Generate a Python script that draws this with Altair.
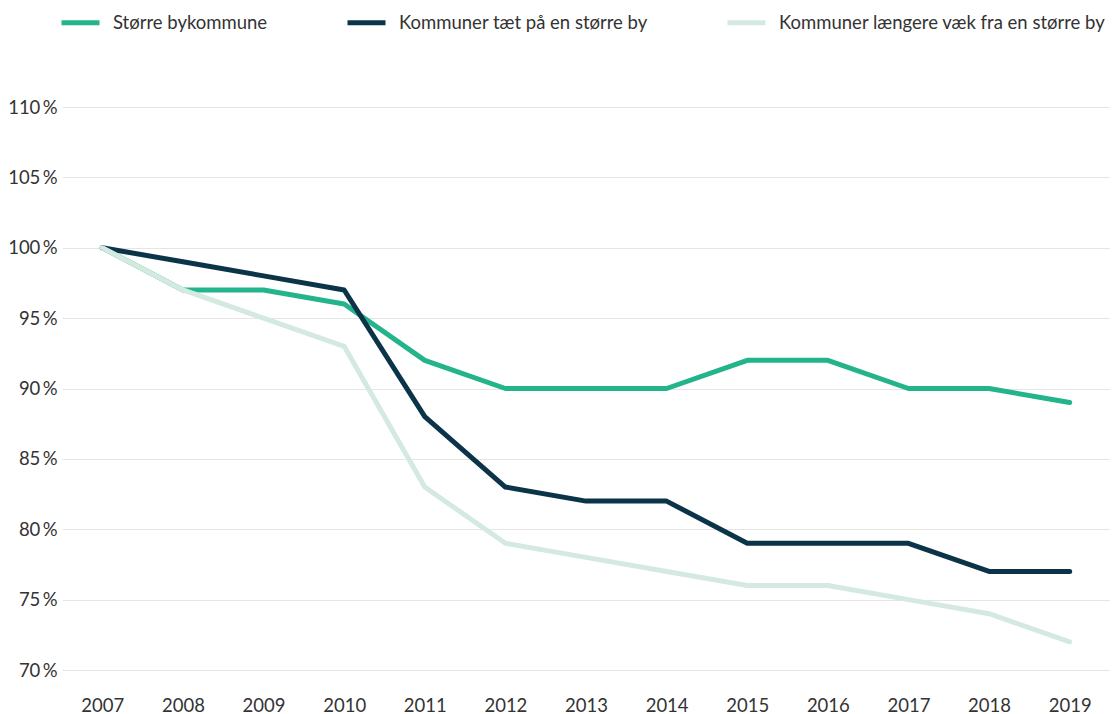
import altair as alt
import pandas as pd

years = [str(y) for y in range(2007, 2020)]
series_names = ["Større bykommune", "Kommuner tæt på en større by", "Kommuner længere væk fra en større by"]
storre = [100, 97, 97, 96, 92, 90, 90, 90, 92, 92, 90, 90, 89]
taet = [100, 99, 98, 97, 88, 83, 82, 82, 79, 79, 79, 77, 77]
laengere = [100, 97, 95, 93, 83, 79, 78, 77, 76, 76, 75, 74, 72]
colors = ["#23b48b", "#0b3449", "#d4eae1"]

rows = []
for name, vals in zip(series_names, [storre, taet, laengere]):
    for y, v in zip(years, vals):
        rows.append({"year": y, "serie": name, "value": v})
df = pd.DataFrame(rows)

FS = 18.5

chart = alt.Chart(df).mark_line(strokeWidth=5, strokeCap="round", strokeJoin="round").encode(
    x=alt.X("year:O", title=None, sort=years,
            scale=alt.Scale(type="point", padding=0.5),
            axis=alt.Axis(labelAngle=0, domain=False, ticks=False, labelPadding=26,
                          labelFontSize=FS, labelColor="#333333", labelFont="Lato")),
    y=alt.Y("value:Q", title=None,
            scale=alt.Scale(domain=[70, 110], nice=False, zero=False),
            axis=alt.Axis(values=[70, 75, 80, 85, 90, 95, 100, 105, 110], domain=False, ticks=False,
                          labelExpr="datum.value + '\u2009%'", labelPadding=5, labelFontSize=FS,
                          labelColor="#333333", labelFont="Lato", gridColor="#e5e5e5")),
    color=alt.Color("serie:N", sort=series_names,
                    scale=alt.Scale(domain=series_names, range=colors),
                    legend=alt.Legend(title=None, orient="none", direction="horizontal",
                                      legendX=-3, legendY=-106, symbolType="stroke",
                                      symbolSize=1444, symbolStrokeWidth=5, labelFontSize=FS,
                                      labelFont="Lato", labelColor="#333333", labelOffset=11,
                                      labelLimit=0, columnPadding=69)),
    order=alt.Order("year:O"),
).properties(
    width=1048, height=563,
    autosize=alt.AutoSizeParams(type="none"),
    padding={"left": 54, "top": 99, "right": 0, "bottom": 44},
).configure_view(stroke=None)

chart.save("out.html", embed_options={"renderer": "svg", "actions": False})
